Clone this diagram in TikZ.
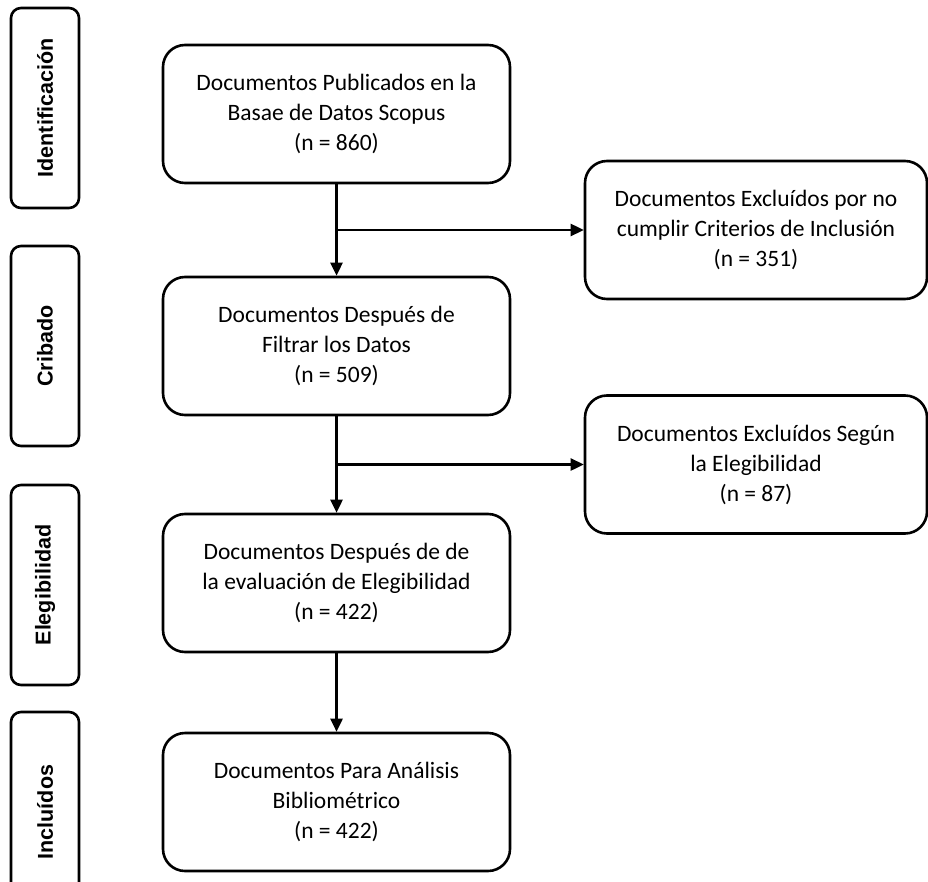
\documentclass[tikz,border=0pt]{standalone}
\usepackage{fontspec}
\setmainfont{Carlito}
\newfontfamily\stagefont{Liberation Sans}
\usetikzlibrary{arrows.meta,positioning,calc}

\begin{document}
\begin{tikzpicture}[x=1pt,y=-1pt,->,>={Triangle[length=13pt,width=12pt]},line width=2.6pt,
		main node/.style={rectangle,rounded corners=22pt,draw,minimum width=347pt,minimum height=138pt,align=center,font=\fontsize{23.5}{30}\selectfont},
		excl node/.style={main node,minimum width=342pt},
		stage node/.style={rectangle,rounded corners=10pt,draw,rotate=90,minimum width=200pt,minimum height=68pt,font=\stagefont\bfseries\fontsize{21.5}{24}\selectfont}]
	\useasboundingbox (0,0) rectangle (928,882);
	% main column
	\node[main node] (1) at (336.5,114) {Documentos Publicados en la\\Basae de Datos Scopus\\(n = 860)};
	\node[main node] (2) [below of=1,node distance=232pt] {Documentos Después de\\Filtrar los Datos\\(n = 509)};
	\node[main node] (3) [below of=2,node distance=237pt] {Documentos Después de de\\la evaluación de Elegibilidad\\(n = 422)};
	\node[main node] (4) [below of=3,node distance=219pt] {Documentos Para Análisis\\Bibliométrico\\(n = 422)};
	% branch points
	\coordinate (m1) at ($(1.south)!0.5!(2.north)$);
	\coordinate (m2) at ($(2.south)!0.5!(3.north)$);
	\node[excl node] (e1) at (m1 -| 756,0) {Documentos Excluídos por no\\cumplir Criterios de Inclusión\\(n = 351)};
	\node[excl node] (e2) at (m2 -| 756,0) {Documentos Excluídos Según\\la Elegibilidad\\(n = 87)};
	% stages
	\node[stage node] (s1) at (45,108) {Identificación};
	\node[stage node] (s2) at (45,346) {Cribado};
	\node[stage node] (s3) at (45,585) {Elegibilidad};
	\node[stage node] (s4) at (45,812) {Incluídos};
	\path[]
		(1) edge (2)
		(2) edge (3)
		(3) edge (4)
		(m1) edge (e1)
		(m2) edge (e2);
\end{tikzpicture}
\end{document}
